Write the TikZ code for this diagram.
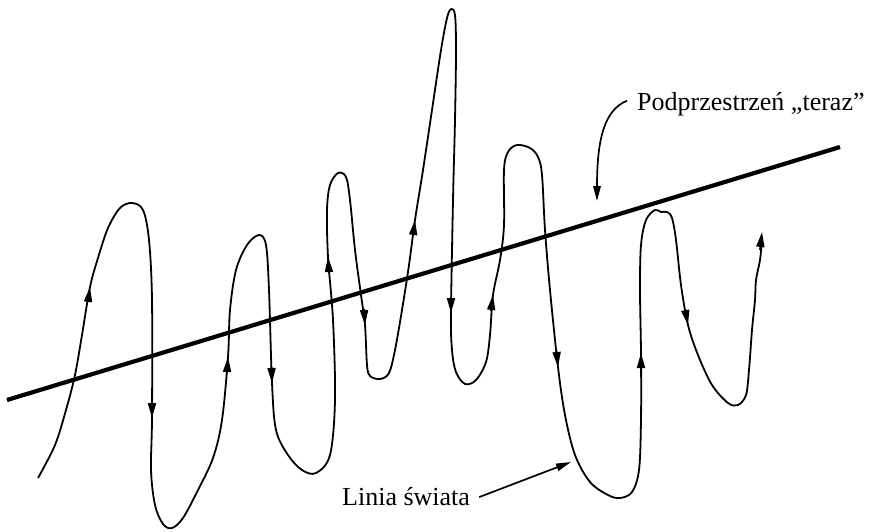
\documentclass[tikz,border=0pt]{standalone}
\usepackage{fontspec}
\setmainfont{Liberation Serif}
\usetikzlibrary{arrows.meta}
\tikzset{
  worldline/.style={line width=1.8pt, line join=round},
  nowline/.style={line width=4.2pt},
  headarr/.style={line width=1.8pt, -{Triangle[length=15pt,width=8pt]}},
  pointer/.style={line width=1.7pt, -{Triangle[length=15pt,width=7.5pt]}},
  caption/.style={font=\fontsize{26}{30}\selectfont, inner sep=0pt}
}
\begin{document}
\begin{tikzpicture}[x=1pt, y=-1pt]
  \useasboundingbox (0,0) rectangle (876,531);
  % Hyperplane "now"
  \coordinate (nowA) at (7,400);
  \coordinate (nowB) at (840,147);
  \draw[nowline] (nowA) -- (nowB);
  % World line
  \draw[worldline] plot[smooth, tension=0.55] coordinates {
    (38,478) (55,445) (66,410) (75,375) (82,335) (90,287) (98,258)
    (108,228) (120,208) (132,203) (143,210) (149,240) (152,300)
    (152,418) (151,470) (155,505) (163,524) (172,528) (183,518)
    (198,490) (213,458) (222,420) (228,357) (230,310) (236,270)
    (247,245) (259,235) (266,245) (269,290) (272,383) (276,430)
    (288,455) (302,470) (316,473) (330,455) (335,400) (333,320)
    (328,257) (327,210) (330,185) (338,173) (346,177) (350,200)
    (355,250) (361,295) (365,325) (367,365) (370,376) (380,379)
    (389,373) (395,350) (402,310) (409,265) (415,220) (423,170)
    (432,110) (441,50) (447,18) (451,9) (455,15) (456,50) (455,120)
    (453,200) (451,313) (452,350) (456,372) (465,384) (476,380)
    (486,362) (490,335) (493,295) (500,260) (504,225) (504,170)
    (508,152) (517,145) (530,148) (538,157) (542,175) (545,230)
    (550,290) (558,367) (565,415) (575,455) (590,482) (608,495)
    (620,498) (632,492) (639,470) (641,420) (641,353) (640,290)
    (641,245) (646,220) (655,210) (661,212) (667,212) (672,218)
    (676,240) (681,285) (688,325) (698,355) (712,385) (728,403)
    (738,405) (746,395) (749,370) (752,330) (755,300) (756,280)
    (760,260) (762,240)
  };
  % Direction marks on the world line
  \draw[headarr] (88,302) -- (90,287);
  \draw[headarr] (152,402) -- (152,418);
  \draw[headarr] (227,373) -- (228,357);
  \draw[headarr] (271.5,367) -- (272,383);
  \draw[headarr] (329,273) -- (328,257);
  \draw[headarr] (364,309) -- (365,325);
  \draw[headarr] (413,236) -- (415,220);
  \draw[headarr] (451,297) -- (451,313);
  \draw[headarr] (491,311) -- (493,295);
  \draw[headarr] (556.5,351) -- (558,367);
  \draw[headarr] (641,369) -- (641,353);
  \draw[headarr] (685,309) -- (688,325);
  \draw[headarr] (760,250) -- (762,232);
  % Labels
  \node[caption, anchor=base west] (teraz) at (637,110) {Podprzestrzeń „teraz”};
  \coordinate (terazTip) at (597,201);
  \draw[pointer] ([xshift=-10pt,yshift=3pt]teraz.west)
    .. controls (604,110) and (597,140) .. (terazTip);
  \node[caption, anchor=base west] (linia) at (342,505) {Linia świata};
  \coordinate (liniaTip) at (571,462);
  \draw[pointer] ([xshift=9pt,yshift=-1pt]linia.east) -- (liniaTip);
\end{tikzpicture}
\end{document}
